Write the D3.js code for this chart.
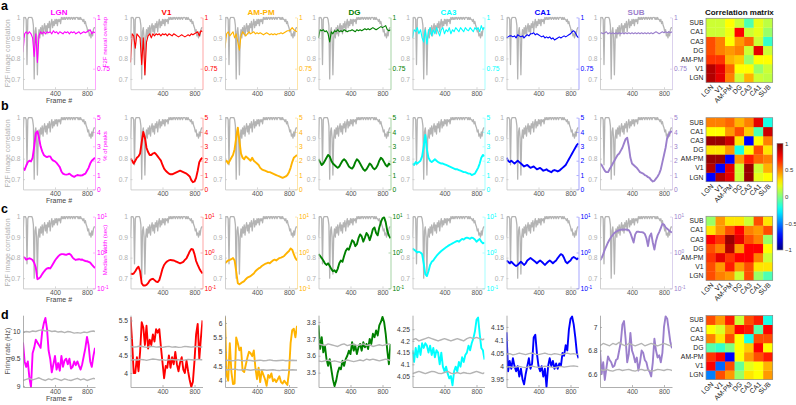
<!DOCTYPE html>
<html><head><meta charset="utf-8">
<script src="https://cdn.jsdelivr.net/npm/d3@7/dist/d3.min.js"></script>
<style>
html,body{margin:0;padding:0;background:#fff;}
svg{display:block;}
</style></head>
<body>
<svg id="fig" width="796" height="405"></svg>
<script>
// ---------------- DATA ----------------
const regions = ["LGN","V1","AM-PM","DG","CA3","CA1","SUB"];
const regionColors = ["#ff00ff","#ff0000","#ffb300","#008000","#00ffff","#0000ff","#9b7fcc"];

const frameGrid = [0,20,40,60,80,100,120,140,160,180,200,220,240,260,280,300,320,340,360,380,400,420,440,460,480,500,520,540,560,580,600,620,640,660,680,700,720,740,760,780,800,820,840,860,880,900];
const grayFrames = [0,10,20,30,40,50,60,70,80,90,100,110,120,130,140,150,160,170,180,190,200,210,220,230,240,250,260,270,280,290,300,310,320,330,340,350,360,370,380,390,400,410,420,430,440,450,460,470,480,490,500,510,520,530,540,550,560,570,580,590,600,610,620,630,640,650,660,670,680,690,700,710,720,730,740,750,760,770,780,790,800,810,820,830,840,850,860,870,880,890,900];
const bandFrames = [0,40,80,120,160,200,240,280,320,360,400,440,480,520,560,600,640,680,720,760,800,840,880,900];

// F2F image correlation (gray, rows a-c)
const grayImageCorr = [0.90,1.00,1.00,1.00,0.99,0.77,0.99,1.00,1.00,1.00,
 1.00,1.00,0.99,0.96,0.70,0.93,0.95,0.90,0.72,0.90,
 0.94,0.90,0.95,0.92,0.96,0.91,0.95,0.97,0.93,0.96,
 0.92,0.97,0.95,0.98,0.93,0.97,0.99,0.95,0.98,0.96,
 0.99,0.97,0.99,0.96,0.99,0.98,0.99,0.97,1.00,0.99,
 1.00,0.99,1.00,0.99,1.00,1.00,0.99,1.00,1.00,0.99,
 1.00,1.00,0.99,1.00,1.00,0.99,1.00,1.00,1.00,0.99,
 1.00,0.99,1.00,0.99,0.99,0.98,0.99,0.97,0.98,0.96,
 0.95,0.93,0.94,0.91,0.92,0.90,0.93,0.91,0.94,0.95,0.95];

// row a: F2F neural overlap
const neuralOverlap = [
 [0.83,0.92,0.93,0.92,0.93,0.92,0.90,0.81,0.92,0.78, 0.91,0.93,0.92,0.93,0.92,0.93,0.925,0.93,0.92,0.935, 0.925,0.93,0.92,0.93,0.925,0.92,0.93,0.925,0.93,0.92, 0.93,0.925,0.93,0.92,0.925,0.93,0.92,0.925,0.93,0.925, 0.93,0.935,0.94,0.92,0.93,0.925],
 [0.78,0.92,0.91,0.85,0.92,0.91,0.90,0.77,0.90,0.72, 0.88,0.91,0.92,0.90,0.92,0.91,0.92,0.915,0.92,0.91, 0.92,0.915,0.92,0.91,0.92,0.915,0.91,0.92,0.915,0.91, 0.905,0.91,0.915,0.91,0.905,0.91,0.915,0.91,0.92,0.915, 0.92,0.925,0.93,0.91,0.935,0.93],
 [0.85,0.92,0.93,0.91,0.92,0.93,0.90,0.92,0.88,0.84, 0.91,0.93,0.92,0.91,0.92,0.93,0.92,0.925,0.93,0.92, 0.925,0.92,0.925,0.92,0.915,0.92,0.925,0.92,0.915,0.92, 0.915,0.92,0.915,0.92,0.92,0.925,0.92,0.925,0.93,0.935, 0.935,0.94,0.95,0.94,0.935,0.93],
 [0.90,0.94,0.935,0.94,0.93,0.935,0.92,0.88,0.93,0.92, 0.935,0.93,0.94,0.93,0.935,0.93,0.94,0.935,0.93,0.935, 0.935,0.94,0.935,0.93,0.94,0.935,0.94,0.935,0.94,0.945, 0.94,0.945,0.94,0.945,0.95,0.945,0.94,0.945,0.95,0.955, 0.95,0.955,0.96,0.94,0.935,0.94],
 [0.90,0.94,0.93,0.95,0.92,0.94,0.90,0.88,0.94,0.87, 0.93,0.95,0.91,0.94,0.92,0.95,0.93,0.91,0.94,0.95, 0.92,0.94,0.93,0.95,0.92,0.94,0.93,0.95,0.94,0.93, 0.95,0.94,0.93,0.95,0.94,0.935,0.95,0.94,0.93,0.95, 0.94,0.95,0.93,0.96,0.94,0.95],
 [0.90,0.905,0.91,0.91,0.905,0.91,0.90,0.915,0.91,0.905, 0.91,0.90,0.91,0.915,0.91,0.92,0.92,0.925,0.915,0.92, 0.915,0.91,0.905,0.91,0.90,0.905,0.90,0.905,0.895,0.90, 0.89,0.895,0.90,0.905,0.90,0.905,0.91,0.905,0.91,0.915, 0.92,0.93,0.935,0.925,0.91,0.90],
 [0.92,0.925,0.92,0.925,0.93,0.92,0.925,0.92,0.925,0.92, 0.925,0.92,0.925,0.92,0.925,0.92,0.925,0.92,0.925,0.92, 0.925,0.92,0.925,0.92,0.925,0.92,0.925,0.92,0.925,0.92, 0.925,0.92,0.925,0.92,0.925,0.93,0.925,0.92,0.925,0.93, 0.925,0.93,0.925,0.93,0.925,0.93]
];

// row b: % of peaks
const pctPeaks = [
 [1.5,1.35,1.65,1.9,2.0,1.95,2.2,3.0,3.9,4.05, 3.6,3.0,2.65,2.4,2.3,2.25,2.3,2.3,2.1,2.0, 1.95,1.85,1.7,1.55,1.25,1.1,1.05,1.03,1.05,1.1, 1.0,0.92,0.87,0.95,1.0,0.98,0.97,0.98,1.05,1.1, 1.3,1.5,1.8,2.0,2.1,2.2],
 [2.15,2.0,1.8,2.0,2.2,2.3,2.5,3.3,4.0,3.6, 2.9,2.6,2.4,2.4,2.5,2.55,2.45,2.3,2.15,2.0, 1.7,1.45,1.3,1.2,1.1,1.05,1.05,1.1,1.15,1.2, 1.25,1.3,1.25,1.2,1.15,1.1,1.0,0.9,0.65,0.5, 0.55,0.8,1.3,1.9,2.1,2.2],
 [1.9,2.0,1.8,2.0,2.2,2.4,2.8,3.6,4.3,3.4, 2.5,2.2,2.1,2.3,2.2,2.1,2.0,2.2,2.0,1.9, 1.8,1.7,1.5,1.4,1.35,1.3,1.25,1.2,1.2,1.15, 1.1,1.05,1.0,0.95,0.9,0.85,0.8,0.85,0.9,1.0, 1.2,1.5,1.9,2.2,2.3,2.4],
 [2.1,1.9,1.7,1.8,2.0,2.2,2.4,2.3,2.0,1.8, 1.7,1.6,1.5,1.6,1.8,2.0,2.1,2.0,1.8,1.6, 1.5,1.45,1.6,1.9,2.1,2.0,1.8,1.6,1.4,1.3, 1.4,1.6,1.8,1.7,1.5,1.4,1.5,1.7,2.0,2.2, 2.1,1.9,1.7,1.6,1.8,1.7],
 [1.8,1.7,1.9,1.8,1.9,2.0,2.3,3.0,3.8,2.8, 2.2,2.0,1.9,2.0,2.1,2.0,1.9,1.85,1.8,1.8, 1.75,1.7,1.65,1.6,1.55,1.5,1.45,1.4,1.4,1.35, 1.3,1.25,1.2,1.2,1.15,1.1,1.1,1.0,1.05,1.1, 1.3,1.5,1.8,2.2,2.4,2.3],
 [2.2,2.0,1.9,2.0,1.9,1.8,1.9,2.0,1.9,1.8, 1.7,1.6,1.65,1.7,1.6,1.5,1.55,1.6,1.5,1.4, 1.45,1.5,1.4,1.3,1.35,1.4,1.3,1.25,1.2,1.3, 1.35,1.3,1.25,1.3,1.4,1.5,1.6,1.7,1.9,2.1, 2.3,2.5,2.7,2.9,3.1,3.2],
 [1.8,1.7,1.5,1.3,1.2,1.2,1.4,1.6,1.8,2.0, 2.2,2.4,2.5,2.7,2.9,3.2,3.5,3.6,3.0,2.2, 1.8,1.7,1.6,1.5,1.35,1.2,1.15,1.1,1.0,0.95, 0.85,0.8,0.65,0.55,0.6,0.75,0.9,1.1,1.4,1.9, 2.4,2.9,3.6,3.8,4.0,4.05]
];

// row c: median width (sec), log scale
const medianWidth = [
 [0.74,0.72,0.63,0.66,0.69,0.66,0.62,0.52,0.38,0.18, 0.19,0.21,0.25,0.29,0.33,0.36,0.37,0.36,0.42,0.5, 0.6,0.69,0.78,0.86,0.9,0.9,0.88,0.86,0.9,0.92, 0.85,0.72,0.66,0.62,0.64,0.65,0.63,0.64,0.6,0.58, 0.57,0.55,0.52,0.46,0.41,0.37],
 [0.26,0.25,0.26,0.3,0.36,0.4,0.3,0.14,0.12,0.12, 0.125,0.14,0.165,0.18,0.185,0.17,0.155,0.15,0.17,0.24, 0.35,0.45,0.52,0.57,0.6,0.62,0.61,0.6,0.57,0.55, 0.52,0.5,0.52,0.55,0.62,0.69,0.85,1.07,1.25,1.22, 0.9,0.58,0.45,0.36,0.3,0.26],
 [0.5,0.55,0.6,0.62,0.65,0.7,0.6,0.3,0.14,0.13, 0.14,0.15,0.16,0.18,0.2,0.21,0.22,0.24,0.26,0.3, 0.33,0.36,0.38,0.42,0.45,0.48,0.5,0.52,0.5,0.55, 0.6,0.63,0.6,0.65,0.7,0.72,0.75,0.8,0.9,1.0, 1.1,1.3,1.2,0.9,0.7,0.6],
 [0.9,0.8,0.7,0.6,0.5,0.45,0.5,0.42,0.35,0.3, 0.32,0.28,0.35,0.5,0.6,0.55,0.8,1.1,1.3,1.2, 1.6,2.2,2.0,1.5,1.7,2.5,3.2,2.8,2.0,2.6, 3.5,3.0,2.2,3.0,4.5,5.0,3.5,3.0,5.0,7.0, 9.0,9.5,7.0,4.0,3.0,2.5],
 [1.3,1.2,1.1,1.0,1.05,1.0,0.9,0.5,0.25,0.22, 0.3,0.45,0.55,0.6,0.7,0.8,0.9,1.0,1.1,1.2, 1.3,1.4,1.5,1.6,1.7,1.8,1.9,2.0,2.1,2.0, 2.2,2.4,2.3,2.5,2.6,2.5,2.4,2.6,2.5,2.3, 2.0,2.2,2.4,2.0,1.8,1.9],
 [0.6,0.55,0.5,0.55,0.5,0.45,0.42,0.45,0.5,0.55, 0.5,0.45,0.5,0.6,0.65,0.7,0.65,0.6,0.55,0.5, 0.55,0.6,0.55,0.5,0.45,0.5,0.55,0.6,0.55,0.5, 0.55,0.6,0.7,0.8,0.9,0.85,0.7,0.55,0.5,0.55, 0.6,0.7,0.75,0.7,0.65,0.7],
 [0.6,0.7,0.9,1.2,1.5,1.9,2.3,2.7,3.1,3.5, 3.8,4.0,4.2,4.3,4.4,4.3,4.4,4.3,4.2,3.5, 2.6,1.9,3.2,3.8,3.8,3.7,3.7,3.6,3.3,2.5, 1.5,2.8,3.4,1.9,1.2,2.1,3.0,3.7,4.8,6.3, 6.0,5.0,4.6,4.2,3.8,3.6]
];

// row d: firing rate (Hz)
const firingRate = [
 [9.8,9.45,9.35,9.45,9.15,8.98,9.6,9.7,9.85,9.8, 9.75,9.7,10.0,10.15,10.25,10.05,9.65,9.5,9.25,9.4, 9.55,9.3,9.42,9.28,9.55,9.35,9.47,9.5,9.4,9.5, 9.32,9.35,9.45,9.38,9.45,9.37,9.3,9.4,9.55,9.7, 9.9,9.75,9.45,9.35,9.55,9.7],
 [5.6,4.9,4.0,4.0,4.45,4.05,4.6,5.45,5.3,4.8, 5.35,4.7,4.95,4.8,5.1,4.9,5.25,5.15,5.25,4.75, 4.3,3.85,4.2,4.15,4.5,4.15,4.45,4.25,4.6,4.25, 4.05,4.3,4.45,4.1,4.0,4.35,4.05,3.8,3.6,3.75, 4.35,5.1,5.4,4.4,5.0,5.5],
 [6.2,4.2,4.0,5.3,4.3,3.88,3.9,5.5,5.3,5.05, 5.15,4.35,4.3,4.55,4.8,5.0,4.95,4.85,5.05,4.45, 4.05,4.45,3.95,4.35,4.2,4.05,3.82,4.2,4.1,4.25, 3.98,4.05,3.95,4.05,4.15,3.95,3.9,4.0,3.92,3.85, 4.3,5.3,5.75,5.8,5.5,5.9],
 [3.78,3.64,3.71,3.62,3.66,3.58,3.54,3.58,3.52,3.46, 3.42,3.45,3.5,3.53,3.52,3.57,3.54,3.58,3.6,3.63, 3.61,3.68,3.63,3.66,3.61,3.65,3.67,3.63,3.68,3.65, 3.67,3.64,3.7,3.67,3.73,3.71,3.75,3.72,3.78,3.8, 3.83,3.8,3.73,3.63,3.55,3.67],
 [4.16,4.11,4.17,4.13,4.18,4.14,4.19,4.17,4.19,4.18, 4.15,4.18,4.14,4.17,4.13,4.16,4.15,4.1,4.15,4.09, 4.07,4.09,4.06,4.04,4.05,4.01,4.07,4.09,4.07,4.11, 4.09,4.13,4.11,4.14,4.15,4.18,4.16,4.19,4.21,4.24, 4.29,4.3,4.23,4.17,4.16,4.12],
 [4.13,3.98,4.02,3.99,4.03,4.0,3.98,4.0,3.96,3.99, 3.95,3.93,3.97,4.0,4.03,3.99,4.01,4.11,4.12,4.05, 4.0,3.98,4.0,3.96,3.99,3.92,4.0,4.03,4.0,4.02, 3.99,4.01,3.99,4.01,4.0,4.05,4.04,4.08,4.06,4.14, 4.18,4.19,4.16,4.11,4.05,4.03],
 [6.8,6.6,6.7,6.55,6.65,6.75,6.72,6.7,6.66,6.67, 6.72,6.73,6.8,6.87,7.02,7.05,6.9,6.7,6.77,6.95, 6.8,6.76,6.7,6.74,6.63,6.7,6.8,6.78,6.72,6.7, 6.64,6.62,6.58,6.7,6.9,6.8,6.74,6.76,6.7,6.78, 7.0,7.09,7.07,6.97,6.87,6.82]
];
const bandUpper = [
 [9.98,10.0,9.99,10.01,10.0,10.02,10.03,10.01,10.02,10.0,10.01,9.99,10.0,9.98,10.0,9.99,9.97,9.98,9.97,9.99,9.98,10.0,10.01,10.0],
 [4.76,4.74,4.75,4.77,4.75,4.73,4.75,4.76,4.74,4.75,4.73,4.75,4.76,4.74,4.75,4.73,4.74,4.76,4.75,4.74,4.75,4.76,4.74,4.75],
 [4.7,4.71,4.69,4.7,4.72,4.7,4.69,4.71,4.7,4.68,4.7,4.71,4.69,4.7,4.72,4.7,4.69,4.7,4.71,4.69,4.7,4.71,4.7,4.7],
 [3.67,3.665,3.66,3.67,3.665,3.66,3.655,3.665,3.67,3.66,3.665,3.67,3.66,3.665,3.67,3.66,3.665,3.655,3.66,3.665,3.66,3.665,3.67,3.665],
 [4.205,4.21,4.2,4.205,4.21,4.215,4.21,4.205,4.2,4.205,4.21,4.205,4.2,4.205,4.21,4.205,4.2,4.21,4.215,4.21,4.215,4.21,4.205,4.21],
 [4.045,4.048,4.043,4.046,4.05,4.047,4.044,4.048,4.05,4.046,4.044,4.047,4.05,4.046,4.044,4.048,4.046,4.043,4.047,4.05,4.046,4.048,4.045,4.047],
 [6.84,6.86,6.85,6.84,6.86,6.85,6.87,6.85,6.84,6.86,6.85,6.84,6.85,6.86,6.84,6.85,6.86,6.85,6.84,6.85,6.86,6.85,6.84,6.85]
];
const bandLower = [
 [9.1,9.12,9.14,9.11,9.13,9.15,9.12,9.1,9.13,9.11,9.14,9.12,9.1,9.13,9.11,9.1,9.12,9.14,9.11,9.13,9.1,9.12,9.14,9.13],
 [4.36,4.38,4.37,4.39,4.38,4.36,4.38,4.4,4.39,4.37,4.38,4.36,4.38,4.39,4.37,4.38,4.36,4.37,4.39,4.38,4.37,4.39,4.38,4.38],
 [4.37,4.38,4.39,4.4,4.38,4.37,4.39,4.38,4.36,4.38,4.39,4.37,4.38,4.36,4.37,4.38,4.36,4.35,4.37,4.36,4.37,4.38,4.37,4.37],
 [3.57,3.565,3.57,3.575,3.565,3.57,3.565,3.56,3.57,3.575,3.57,3.565,3.57,3.575,3.57,3.58,3.575,3.58,3.575,3.57,3.575,3.58,3.575,3.57],
 [4.06,4.065,4.07,4.065,4.06,4.065,4.07,4.068,4.062,4.06,4.065,4.07,4.062,4.06,4.065,4.06,4.065,4.062,4.06,4.065,4.07,4.065,4.06,4.065],
 [3.995,3.998,3.994,3.997,3.999,3.996,3.994,3.998,4.0,3.997,3.995,3.997,4.0,3.998,3.996,3.994,3.997,3.999,3.996,3.998,4.0,4.001,3.999,3.998],
 [6.64,6.63,6.64,6.63,6.625,6.635,6.64,6.63,6.635,6.64,6.63,6.625,6.635,6.64,6.63,6.635,6.625,6.63,6.64,6.635,6.63,6.64,6.635,6.63]
];
const firingDomains = [[8.98,10.3],[3.6,5.65],[3.78,6.27],[3.415,3.84],[4.003,4.31],[3.92,4.195],[6.49,7.1]];
const firingTicks = [[9,9.5,10],[4,4.5,5,5.5],[4,4.5,5,5.5,6],[3.5,3.6,3.7,3.8],[4.05,4.1,4.15,4.2,4.25],[3.95,4,4.05,4.1,4.15],[6.6,6.8,7]];

// correlation matrices: corrX[rowRegion][colRegion], region order LGN..SUB
const corrA = [
 [0.9,0.8,0.5,0.15,0.4,0.15,0.12],
 [0.9,0.8,0.55,0.25,0.25,0.05,0.15],
 [0.65,0.65,0.4,0.35,0.05,0.25,0.25],
 [0.6,0.5,0.45,0.5,0.15,0.8,0.15],
 [0.6,0.5,0.25,0.45,0.55,0.15,-0.15],
 [0.15,0.15,0.22,0.75,0.15,0.2,0.05],
 [0.15,0.15,0.25,0.15,-0.1,0.2,0.12]
];
const corrB = [
 [-0.75,0.9,0.8,0.15,0.95,0.2,0.25],
 [0.9,-0.75,0.8,0.15,0.95,0.15,0.4],
 [0.95,0.95,-0.75,0.45,0.7,0.55,0.5],
 [0.3,0.3,0.45,-0.2,0.25,0.6,0.3],
 [0.95,0.95,0.85,0.3,-0.75,0.25,0.5],
 [0.25,0.25,0.45,0.6,0.35,-0.1,0.85],
 [0.5,0.5,0.55,0.4,0.5,0.8,-0.2]
];
const corrC = [
 [0.6,0.5,0.45,0.15,0.6,0.05,-0.1],
 [0.6,0.45,0.7,0.45,0.6,0.3,0.3],
 [0.65,0.8,0.65,0.75,0.75,0.5,0.15],
 [0.6,0.5,0.9,0.45,0.75,0.75,0.25],
 [0.75,0.65,0.95,0.8,0.6,0.5,0.05],
 [0.3,0.45,0.6,0.75,0.5,0.45,0.6],
 [0.05,0.45,0.3,0.3,0.15,0.6,0.3]
];
const corrD = [
 [-0.5,0.6,0.45,0.05,0.3,0.25,0.45],
 [0.75,-0.55,0.6,-0.05,0.2,0.25,0.4],
 [0.65,0.75,-0.75,0.25,0.45,0.6,0.7],
 [-0.08,-0.15,0.0,0.25,0.35,0.75,0.25],
 [0.5,0.3,0.6,0.25,-0.2,0.6,0.6],
 [0.25,0.18,0.45,0.75,0.7,-0.08,0.75],
 [0.6,0.45,0.7,0.15,0.6,0.7,-0.2]
];
const xTicks = [400,800];
const grayTicks = [0.7,0.8,0.9,1];
const colorbarTicks = [-1,-0.5,0,0.5,1];

// ---------------- LAYOUT ----------------
const FONT = '"Liberation Sans", Arial, Helvetica, sans-serif';
const panelLeft = [23,130.5,225,318.5,412.5,506.5,600];
const panelW = 72, panelH = 71.8;
const rowTop = [17.4,117.6,216.6,315.2];
const TICK_FS = 6.7, LABEL_FS = 7;

const svg = d3.select("#fig").style("font-family", FONT);
const defs = svg.append("defs");

const jet = d3.scaleLinear()
  .domain([-1,-0.75,-0.25,0.25,0.75,1])
  .range(["#000080","#0000ff","#00ffff","#ffff00","#ff0000","#800000"])
  .clamp(true);

function styleAxis(g, lineColor, textColor, lineOpacity, fs) {
  g.attr("font-family", null).attr("font-size", null);
  g.select(".domain").attr("stroke", lineColor).attr("stroke-width", 0.8).attr("stroke-opacity", lineOpacity);
  g.selectAll(".tick line").attr("stroke", lineColor).attr("stroke-width", 0.7).attr("stroke-opacity", lineOpacity);
  g.selectAll(".tick text").attr("fill", textColor).style("font-size", (fs || TICK_FS) + "px").style("font-family", FONT);
}

function addClip(id, x, y, w, h) {
  defs.append("clipPath").attr("id", id).append("rect")
    .attr("x", x).attr("y", y - 1).attr("width", w).attr("height", h + 2);
}

// ----- rows a, b, c -----
const rightSeries = [neuralOverlap, pctPeaks, medianWidth];
const rightLabels = ["F2F neural overlap", "% of peaks", "Median width (sec)"];
const rightLabelCenter = [42, 146, 250];

for (let r = 0; r < 3; r++) {
  for (let i = 0; i < 7; i++) {
    const x0 = panelLeft[i], y0 = rowTop[r], y1 = y0 + panelH;
    const col = regionColors[i];
    const x = d3.scaleLinear().domain([0, 900]).range([x0, x0 + panelW]);
    const yL = d3.scaleLinear().domain([0.65, 1]).range([y1, y0]);
    let yR;
    if (r === 0) yR = d3.scaleLinear().domain([0.65, 1]).range([y1, y0]);
    else if (r === 1) yR = d3.scaleLinear().domain([0, 5]).range([y1, y0]);
    else yR = d3.scaleLog().domain([0.1, 10]).range([y1, y0]);

    const g = svg.append("g");
    const cid = `clip${r}_${i}`;
    addClip(cid, x0, y0, panelW, panelH);
    const pg = g.append("g").attr("clip-path", `url(#${cid})`);

    pg.append("path").datum(grayImageCorr)
      .attr("d", d3.line().x((d, k) => x(grayFrames[k])).y(d => yL(d)))
      .attr("fill", "none").attr("stroke", "#b4b4b4").attr("stroke-width", 1.3)
      .attr("stroke-linejoin", "round");

    const data = rightSeries[r][i];
    pg.append("path").datum(data)
      .attr("d", d3.line().x((d, k) => x(frameGrid[k])).y(d => yR(d)))
      .attr("fill", "none").attr("stroke", col)
      .attr("stroke-width", r === 0 ? 1.1 : 1.9)
      .attr("stroke-linejoin", "round");

    // left axis (gray)
    const axL = g.append("g").attr("transform", `translate(${x0},0)`)
      .call(d3.axisLeft(yL).tickValues(grayTicks).tickSizeInner(-2).tickSizeOuter(0).tickPadding(2.5).tickFormat(d3.format("~g")));
    styleAxis(axL, "#c4c4c4", "#b0b0b0", 1);

    // bottom axis
    const axB = g.append("g").attr("transform", `translate(0,${y1})`)
      .call(d3.axisBottom(x).tickValues(xTicks).tickSizeInner(-2).tickSizeOuter(0).tickPadding(2));
    styleAxis(axB, "#c4c4c4", "#555", 1);

    // right axis (colored)
    let axisR = d3.axisRight(yR).tickSizeInner(-2).tickSizeOuter(0).tickPadding(2);
    if (r === 0) axisR = axisR.tickValues([0.75, 1]).tickFormat(d3.format("~g"));
    else if (r === 1) axisR = axisR.tickValues([0, 1, 2, 3, 4, 5]).tickFormat(d3.format("d"));
    else axisR = axisR.tickValues([0.1, 1, 10]);
    const axR = g.append("g").attr("transform", `translate(${x0 + panelW},0)`).call(axisR);
    styleAxis(axR, col, col, 0.45);
    if (r === 2) {
      axR.selectAll(".tick text").each(function (d) {
        const t = d3.select(this);
        t.text(null);
        t.append("tspan").text("10");
        t.append("tspan").attr("dy", "-0.5em").style("font-size", "4.6px").text(String(Math.round(Math.log10(d))));
      });
    }

    if (i === 0) {
      g.append("text")
        .attr("transform", `translate(10,${(y0 + y1) / 2}) rotate(-90)`)
        .attr("text-anchor", "middle").attr("fill", "#b0b0b0")
        .style("font-size", LABEL_FS + "px").text("F2F image correlation");
      g.append("text")
        .attr("transform", `translate(${x0 + panelW + 12},${rightLabelCenter[r]}) rotate(-90)`)
        .attr("text-anchor", "middle").attr("fill", col)
        .style("font-size", "6px").text(rightLabels[r]);
      g.append("text")
        .attr("x", x0 + panelW / 2).attr("y", y1 + 13.8)
        .attr("text-anchor", "middle").attr("fill", "#444")
        .style("font-size", LABEL_FS + "px").text("Frame #");
    }
    if (r === 0) {
      g.append("text")
        .attr("x", x0 + panelW / 2).attr("y", 14.5)
        .attr("text-anchor", "middle").attr("fill", col)
        .style("font-size", "8px").style("font-weight", "bold").text(regions[i]);
    }
  }
}

// ----- row d -----
for (let i = 0; i < 7; i++) {
  const x0 = panelLeft[i], y0 = rowTop[3], y1 = y0 + panelH;
  const col = regionColors[i];
  const x = d3.scaleLinear().domain([0, 900]).range([x0, x0 + panelW]);
  const y = d3.scaleLinear().domain(firingDomains[i]).range([y1, y0]);
  const g = svg.append("g");
  const cid = `clip3_${i}`;
  addClip(cid, x0, y0, panelW, panelH);
  const pg = g.append("g").attr("clip-path", `url(#${cid})`);

  pg.append("path").datum(firingRate[i])
    .attr("d", d3.line().x((d, k) => x(frameGrid[k])).y(d => y(d)))
    .attr("fill", "none").attr("stroke", col).attr("stroke-width", 1.9).attr("stroke-linejoin", "round");
  [bandUpper[i], bandLower[i]].forEach(b => {
    pg.append("path").datum(b)
      .attr("d", d3.line().x((d, k) => x(bandFrames[k])).y(d => y(d)))
      .attr("fill", "none").attr("stroke", "#b4b4b4").attr("stroke-width", 1.4).attr("stroke-linejoin", "round");
  });

  const axL = g.append("g").attr("transform", `translate(${x0},0)`)
    .call(d3.axisLeft(y).tickValues(firingTicks[i]).tickSizeInner(-2).tickSizeOuter(0).tickPadding(2.5).tickFormat(d3.format("~g")));
  styleAxis(axL, "#9a9a9a", "#333", 1);
  const axB = g.append("g").attr("transform", `translate(0,${y1})`)
    .call(d3.axisBottom(x).tickValues(xTicks).tickSizeInner(-2).tickSizeOuter(0).tickPadding(2));
  styleAxis(axB, "#9a9a9a", "#555", 1);

  if (i === 0) {
    g.append("text")
      .attr("transform", `translate(10,${(y0 + y1) / 2}) rotate(-90)`)
      .attr("text-anchor", "middle").attr("fill", "#555")
      .style("font-size", LABEL_FS + "px").text("Firing rate (Hz)");
    g.append("text")
      .attr("x", x0 + panelW / 2).attr("y", y1 + 13.8)
      .attr("text-anchor", "middle").attr("fill", "#444")
      .style("font-size", LABEL_FS + "px").text("Frame #");
  }
}

// ----- correlation matrices -----
const mats = [corrA, corrB, corrC, corrD];
const mLeft = 706, mW = 66.7, mH = 64;
const mTop = [18.3, 117.7, 216.3, 315.5];
const cx = d3.scaleBand().domain(regions).range([mLeft, mLeft + mW]);
mats.forEach((M, m) => {
  const cy = d3.scaleBand().domain(regions.slice().reverse()).range([mTop[m], mTop[m] + mH]);
  const g = svg.append("g");
  M.forEach((row, i) => row.forEach((v, j) => {
    g.append("rect")
      .attr("x", cx(regions[j])).attr("y", cy(regions[i]))
      .attr("width", cx.bandwidth() + 0.3).attr("height", cy.bandwidth() + 0.3)
      .attr("fill", jet(v));
  }));
  g.append("rect").attr("x", mLeft).attr("y", mTop[m]).attr("width", mW).attr("height", mH)
    .attr("fill", "none").attr("stroke", "#8a8a8a").attr("stroke-width", 0.7);
  regions.forEach(rg => {
    g.append("text").attr("x", mLeft - 2.5).attr("y", cy(rg) + cy.bandwidth() / 2)
      .attr("dy", "0.35em").attr("text-anchor", "end").attr("fill", "#222")
      .style("font-size", "6.8px").text(rg);
    g.append("text")
      .attr("transform", `translate(${cx(rg) + cx.bandwidth() / 2 + 1.5},${mTop[m] + mH + 3.5}) rotate(-45)`)
      .attr("dy", "0.35em").attr("text-anchor", "end").attr("fill", "#222")
      .style("font-size", "6.8px").text(rg);
  });
});
svg.append("text").attr("x", mLeft + mW / 2).attr("y", 14.5).attr("text-anchor", "middle")
  .attr("fill", "#111").style("font-size", "8px").style("font-weight", "bold").text("Correlation matrix");

// ----- colorbar -----
const cbX = 777, cbW = 6, cbTop = 143.3, cbBot = 250;
const cbScale = d3.scaleLinear().domain([-1, 1]).range([cbBot, cbTop]);
const grad = defs.append("linearGradient").attr("id", "jetgrad")
  .attr("x1", 0).attr("y1", 1).attr("x2", 0).attr("y2", 0);
d3.range(0, 1.0001, 0.05).forEach(t => {
  grad.append("stop").attr("offset", t).attr("stop-color", jet(-1 + 2 * t));
});
svg.append("rect").attr("x", cbX).attr("y", cbTop).attr("width", cbW).attr("height", cbBot - cbTop)
  .attr("fill", "url(#jetgrad)").attr("stroke", "#8a8a8a").attr("stroke-width", 0.6);
const cbAx = svg.append("g").attr("transform", `translate(${cbX + cbW},0)`)
  .call(d3.axisRight(cbScale).tickValues(colorbarTicks).tickSizeInner(-1.5).tickSizeOuter(0).tickPadding(2).tickFormat(d3.format("~g")));
styleAxis(cbAx, "#8a8a8a", "#333", 0, 6);

// ----- panel letters -----
[["a", 9.5], ["b", 109.5], ["c", 212.5], ["d", 319]].forEach(([t, yy]) => {
  svg.append("text").attr("x", 1).attr("y", yy).attr("fill", "#000")
    .style("font-size", "12.5px").style("font-weight", "bold").text(t);
});
</script>
</body></html>
